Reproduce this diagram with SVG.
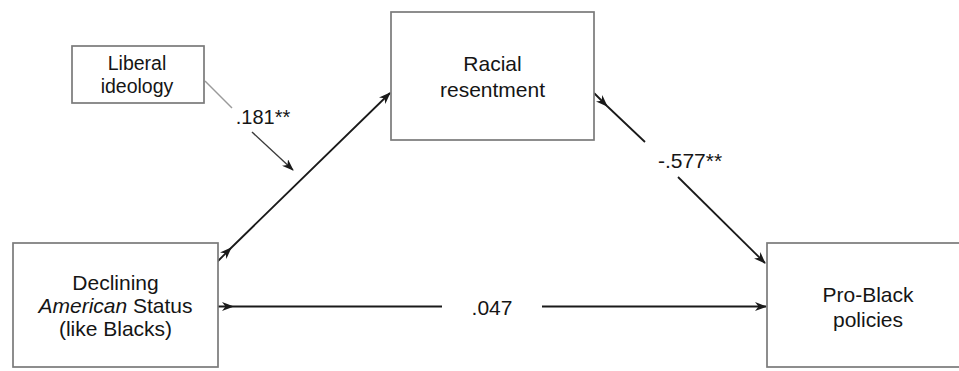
<svg xmlns="http://www.w3.org/2000/svg" width="959" height="371" viewBox="0 0 959 371">
<defs>
<style>
.box{fill:#fff;stroke:#7a7a7a;stroke-width:1.7}
.t{font-family:"Liberation Sans",Arial,sans-serif;font-size:21px;fill:#151515;text-anchor:middle}
.s{font-size:19.5px}
.ln{fill:none;stroke:#1a1a1a;stroke-width:1.8}
.lg{fill:none;stroke:#9a9a9a;stroke-width:1.4}
.ld{fill:none;stroke:#3a3a3a;stroke-width:1.4}
</style>
<marker id="ah" viewBox="0 0 12 9" refX="11" refY="4.5" markerWidth="12" markerHeight="9" markerUnits="userSpaceOnUse" orient="auto">
<path d="M0,0 L12,4.5 L0,9 L3.5,4.5 Z" fill="#1a1a1a"/>
</marker>
</defs>
<rect width="959" height="371" fill="#fff"/>
<g id="connectors">
<path class="ln" d="M217,262 L231,248 L390,93" marker-mid="url(#ah)" marker-end="url(#ah)"/>
<path class="ln" d="M218,306.5 L233,306.5 L442,306.5" marker-mid="url(#ah)"/>
<path class="ln" d="M542,306.5 L766,306.5" marker-end="url(#ah)"/>
<path class="ln" d="M594,93 L607,106 L645,142" marker-mid="url(#ah)"/>
<path class="ln" d="M678,177 L765,263" marker-end="url(#ah)"/>
<path class="lg" d="M205,81 L232,108"/>
<path class="ld" d="M252,132 L293,170" marker-end="url(#ah)"/>
<text class="t" x="263" y="124" style="font-size:20px">.181**</text>
<text class="t" x="690" y="168">-.577**</text>
<text class="t" x="492" y="315">.047</text>
</g>
<g id="liberal">
<rect class="box" x="72" y="46" width="132" height="57"/>
<text class="t s" x="137" y="70">Liberal</text>
<text class="t s" x="137" y="93">ideology</text>
</g>
<g id="racial">
<rect class="box" x="391" y="12" width="203" height="128"/>
<text class="t" x="492.5" y="71">Racial</text>
<text class="t" x="492.5" y="97">resentment</text>
</g>
<g id="declining">
<rect class="box" x="13" y="243" width="205" height="124"/>
<text class="t" x="115.5" y="290">Declining</text>
<text class="t" x="115.5" y="313"><tspan font-style="italic">American</tspan> Status</text>
<text class="t" x="115.5" y="336">(like Blacks)</text>
</g>
<g id="problack">
<rect class="box" x="767" y="243" width="202" height="124"/>
<text class="t" x="868" y="302">Pro-Black</text>
<text class="t" x="868" y="327">policies</text>
</g>
</svg>
